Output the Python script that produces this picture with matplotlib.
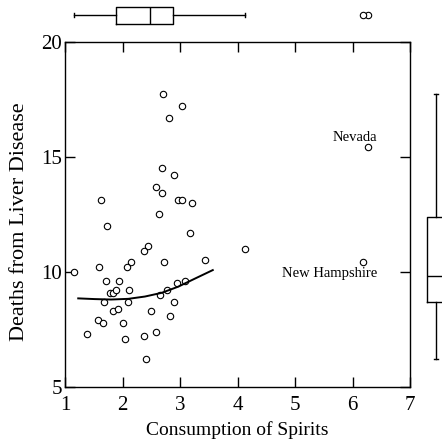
import matplotlib
matplotlib.use("Agg")
import matplotlib.pyplot as plt

plt.rcParams['font.family'] = ['Liberation Serif', 'DejaVu Serif']

# consumption of spirits (x) and deaths from liver disease (y)
spirits = [2.71, 3.03, 2.80, 2.68, 2.90, 2.58, 2.69, 2.96, 3.03, 3.20,
           1.62, 2.63, 1.73, 3.17, 2.44, 2.38, 4.13, 2.73, 2.15, 2.07,
           1.59, 3.43, 1.16, 1.71, 1.94, 1.78, 1.83, 1.88, 2.11, 1.68,
           2.10, 2.66, 2.77, 2.94, 3.09, 2.90, 2.50, 1.83, 1.92, 2.82,
           1.58, 1.66, 2.00, 1.39, 2.04, 2.37, 2.59, 2.40, 6.27, 6.19]
deaths = [17.71, 17.20, 16.70, 14.50, 14.19, 13.70, 13.41, 13.10, 13.10, 12.99,
          13.10, 12.50, 11.99, 11.70, 11.10, 10.90, 10.99, 10.41, 10.41, 10.20,
          10.19, 10.50, 9.99, 9.60, 9.60, 9.09, 9.09, 9.19, 9.19, 8.68,
          8.68, 8.99, 9.19, 9.50, 9.60, 8.68, 8.29, 8.29, 8.39, 8.09,
          7.90, 7.78, 7.78, 7.29, 7.09, 7.19, 7.39, 6.19, 15.41, 10.41]

# smooth curve
curve_x = [1.23, 1.51, 1.80, 2.10, 2.39, 2.68, 2.97, 3.26, 3.57]
curve_y = [8.84, 8.81, 8.79, 8.82, 8.92, 9.08, 9.35, 9.70, 10.07]

labels = ["Nevada", "New Hampshire"]
label_x = [6.43, 6.43]
label_y = [15.83, 9.90]

W, H = 442, 443
fig = plt.figure(figsize=(W / 100, H / 100), dpi=100)

def rect(x0, y0, x1, y1):
    # pixel box -> figure fraction
    return [x0 / W, 1 - y1 / H, (x1 - x0) / W, (y1 - y0) / H]

ax = fig.add_axes(rect(65, 41.7, 410, 386.7))
ax.plot(spirits, deaths, 'o', ms=4.6, mfc='white', mec='black', mew=0.8)
ax.plot(curve_x, curve_y, color='black', lw=1.4)
for t, lx, ly in zip(labels, label_x, label_y):
    ax.text(lx, ly, t, ha='right', va='center', fontsize=10.5)

ax.set_xlim(1, 7)
ax.set_ylim(5, 20)
ax.set_xticks(range(1, 8))
ax.set_yticks([5, 10, 15, 20])
ax.tick_params(direction='in', length=7.5, width=1, top=True, right=True,
               labelsize=15, color='black')
ax.tick_params(axis='y', pad=2)
ax.tick_params(axis='x', pad=7)
for s in ax.spines.values():
    s.set_linewidth(1)
ax.set_xlabel("Consumption of Spirits", fontsize=14, labelpad=4)
fig.text(20 / W, 1 - 222 / H, "Deaths from Liver Disease", fontsize=16,
         rotation=90, ha='center', va='center')

box_style = dict(boxprops=dict(color='black', lw=1),
                 whiskerprops=dict(color='black', lw=1),
                 capprops=dict(color='black', lw=1),
                 medianprops=dict(color='black', lw=1),
                 flierprops=dict(marker='o', ms=4.6, mfc='white', mec='black', mew=0.8))

# marginal boxplot on top
axt = fig.add_axes(rect(65, 0.3, 410, 30.3))
axt.boxplot(spirits, vert=False, positions=[0], widths=1.17, capwidths=0.27, **box_style)
axt.set_xlim(1, 7)
axt.set_ylim(-1, 1)
axt.axis('off')

# marginal boxplot on the right (cut off by the edge)
axr = fig.add_axes(rect(418, 41.7, 454, 386.7))
axr.boxplot(deaths, positions=[0], widths=0.97, capwidths=0.22, **box_style)
axr.set_xlim(-1, 1)
axr.set_ylim(5, 20)
axr.axis('off')

fig.savefig("out.png", dpi=100)
